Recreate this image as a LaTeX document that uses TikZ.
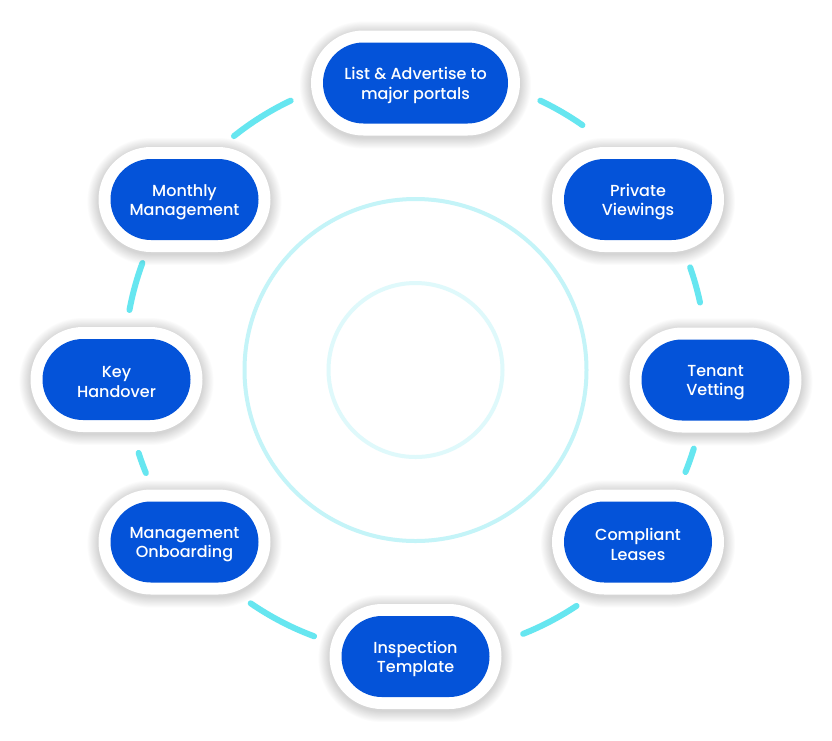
\documentclass[tikz,border=0pt]{standalone}
\usepackage{fontspec}
\setmainfont{Poppins Medium}
\usetikzlibrary{shapes.misc}
\definecolor{nodeblue}{HTML}{0453D9}
\definecolor{arccyan}{HTML}{66E6F0}
\definecolor{ringouter}{HTML}{C4F4F8}
\definecolor{ringinner}{HTML}{DFF9FB}
\tikzset{
  pill/.style={rounded rectangle, fill=nodeblue, inner sep=0pt, minimum height=81pt},
  pilltext/.style={text=white, inner sep=0pt, align=center, font=\fontsize{16}{19.5}\selectfont},
  halo/.style={rounded rectangle, fill=white, inner sep=0pt, minimum height=105pt},
  shade/.style={rounded rectangle, fill=black, fill opacity=0.01, inner sep=0pt},
  arcline/.style={draw=arccyan, line width=6pt, line cap=round},
}
\begin{document}
\begin{tikzpicture}[x=1pt, y=-1pt]
\useasboundingbox (0,0) rectangle (832,740);
\fill[white] (0,0) rectangle (832,740);
\coordinate (c) at (415.5,370);
\coordinate (r) at (415.5,363.5);
% central rings
\draw[ringouter, line width=4pt] (c) circle[radius=171pt];
\draw[ringinner, line width=4pt] (c) circle[radius=87pt];
% decorative arcs
\foreach \a/\b in {128.6/115.4, 64.6/55.0, 159.8/169.4, 19.3/12.1,
                   197.9/202.1, -17.0/-21.9, 235.5/249.6, -68.3/-56.4}
  \draw[arcline] ([shift={(\a:291pt)}]r) arc[start angle=\a, end angle=\b, radius=291pt];
% nodes
\foreach \n/\x/\y/\w/\t in {
  list/415.5/83/185/{List \& Advertise to\\major portals},
  view/638/199.5/148/{Private\\Viewings},
  vet/715.5/380/148/{Tenant\\Vetting},
  lease/638/542/148/{Compliant\\Leases},
  insp/415.5/656.5/148/{Inspection\\Template},
  onb/184.5/542/148/{Management\\Onboarding},
  key/116.5/379.5/148/{Key\\Handover},
  month/184.5/199.5/148/{Monthly\\Management}}
{
  \foreach \k in {1,...,14}
    \node[shade, minimum width={\w+24+1.6*\k}, minimum height={105+1.6*\k}]
      (\n-s\k) at (\x,\y+2) {};
  \node[halo, minimum width={\w+24}] (\n-h) at (\x,\y) {};
  \node[pill, minimum width=\w] (\n) at (\x,\y) {};
  \node[pilltext] (\n-t) at (\x,\y+2.5) {\t};
}
\end{tikzpicture}
\end{document}
